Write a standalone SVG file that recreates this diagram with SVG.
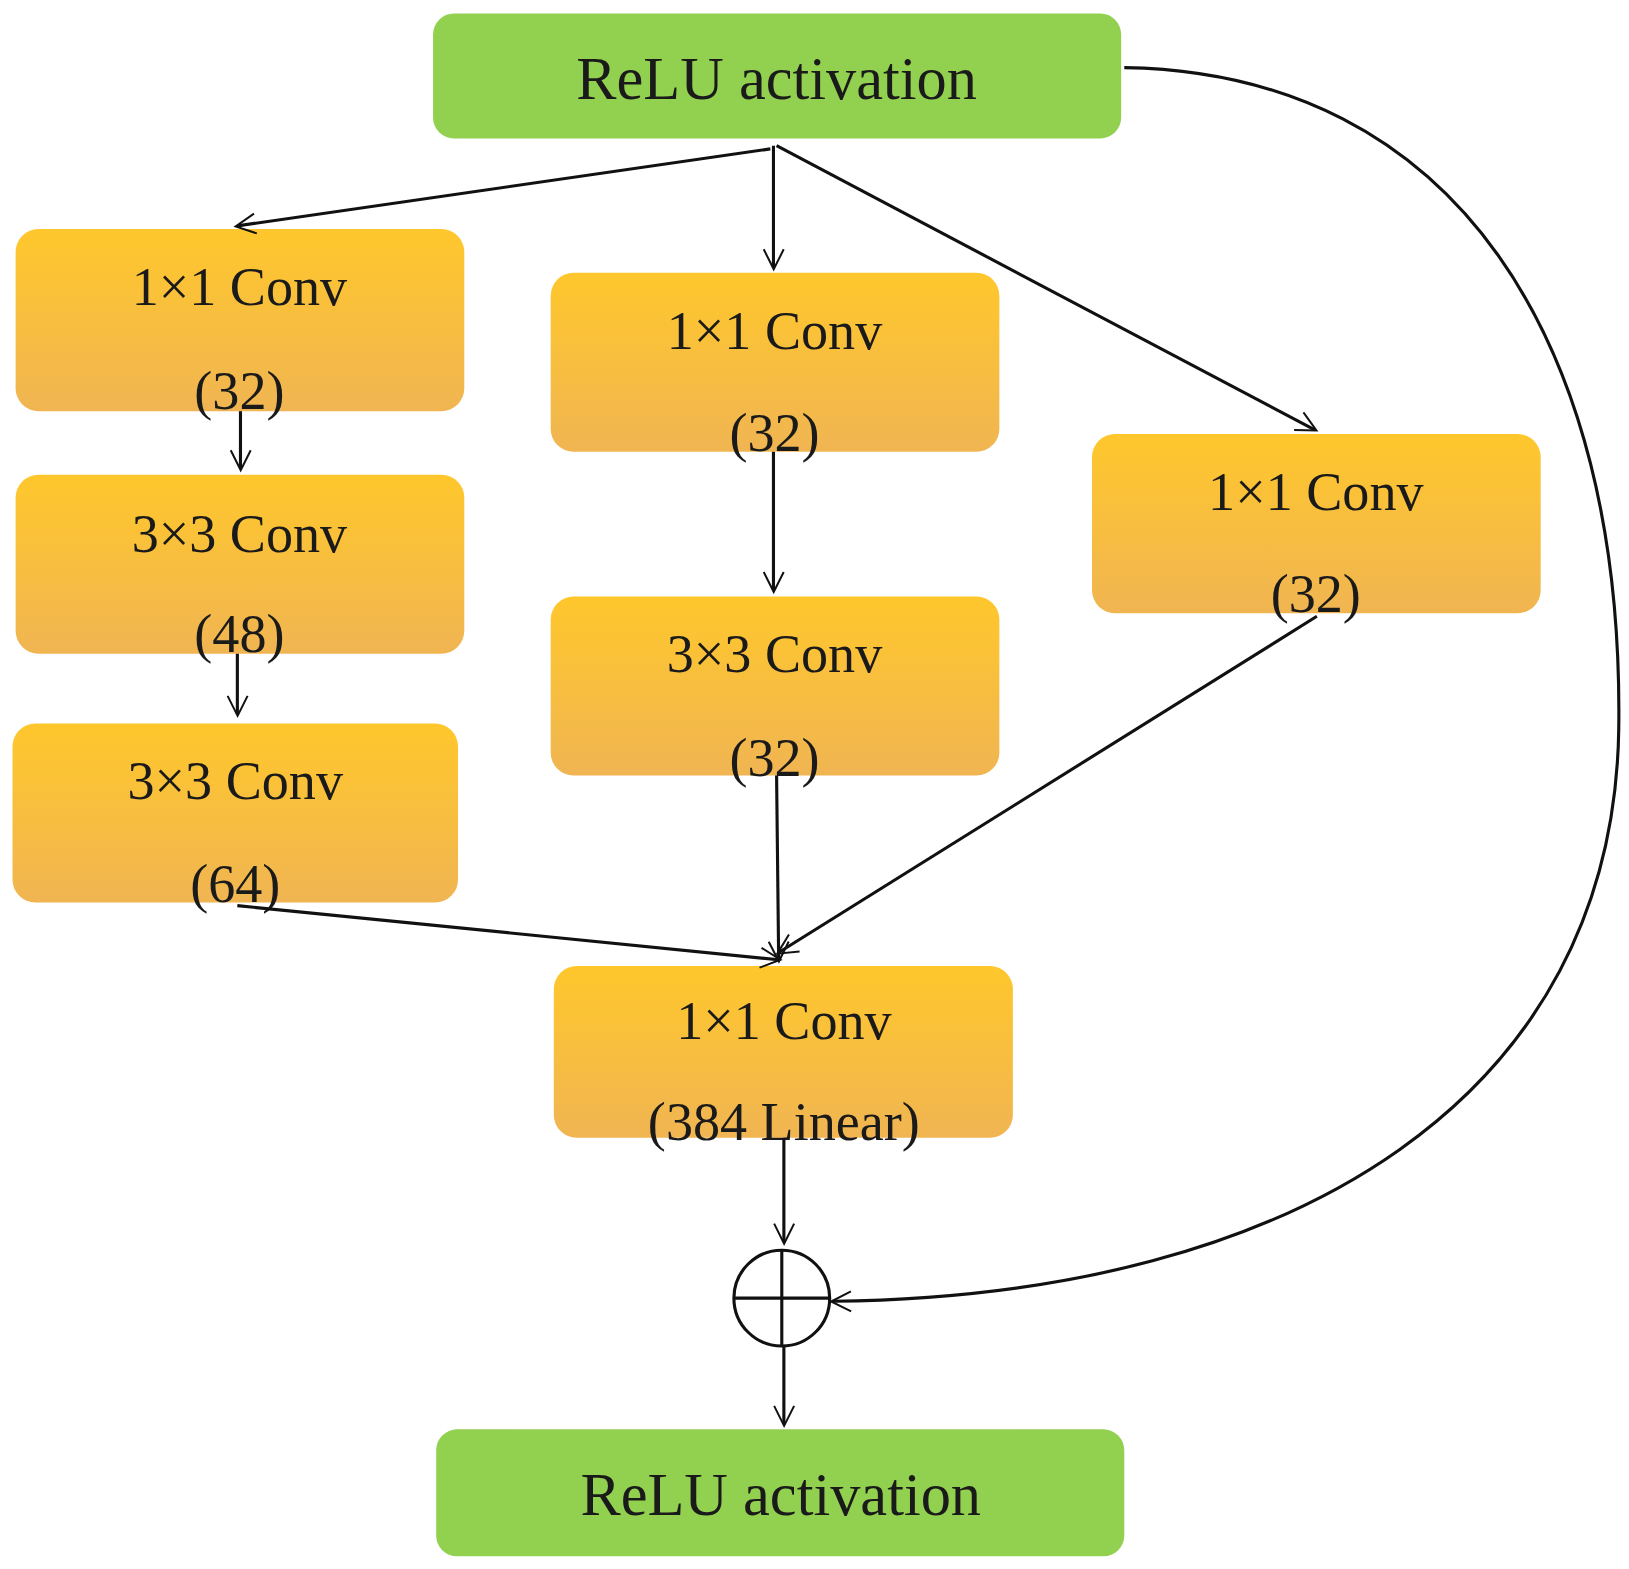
<svg xmlns="http://www.w3.org/2000/svg" width="1629" height="1569" viewBox="0 0 1629 1569">
<style>
.g{fill:#92D050}
.o{fill:url(#og)}
text{font-family:"Liberation Serif",serif;fill:#1a1a1a;text-anchor:middle}
.t1{font-size:58px}
.t2{font-size:52px}
.c{stroke:#111;stroke-width:3;fill:none}
</style>
<defs>
<linearGradient id="og" x1="0" y1="0" x2="0" y2="1"><stop offset="0" stop-color="#FFC72C"/><stop offset="1" stop-color="#F0B552"/></linearGradient>
<marker id="a" viewBox="0 0 20 20" refX="18" refY="10" markerWidth="12" markerHeight="12" markerUnits="userSpaceOnUse" orient="auto" overflow="visible"><polyline points="0,0 20,10 0,20" fill="none" stroke="#111" stroke-width="2" transform="scale(1.6) translate(-7,-4)"/></marker>
</defs>
<rect width="1629" height="1569" fill="#fff"/>
<g transform="scale(1.041)">
<g id="relu_top"><rect class="g" x="416" y="13" width="661" height="120" rx="20"/><text class="t1" x="746" y="95">ReLU activation</text></g>
<g id="l1"><rect class="o" x="15" y="220" width="431" height="175" rx="22"/><text class="t2" x="230" y="293">1×1 Conv</text><text class="t2" x="230" y="393">(32)</text></g>
<g id="l2"><rect class="o" x="15" y="456" width="431" height="172" rx="22"/><text class="t2" x="230" y="530">3×3 Conv</text><text class="t2" x="230" y="626">(48)</text></g>
<g id="l3"><rect class="o" x="12" y="695" width="428" height="172" rx="22"/><text class="t2" x="226" y="768">3×3 Conv</text><text class="t2" x="226" y="866">(64)</text></g>
<g id="m1"><rect class="o" x="529" y="262" width="431" height="172" rx="22"/><text class="t2" x="744" y="335">1×1 Conv</text><text class="t2" x="744" y="433">(32)</text></g>
<g id="m2"><rect class="o" x="529" y="573" width="431" height="172" rx="22"/><text class="t2" x="744" y="646">3×3 Conv</text><text class="t2" x="744" y="745">(32)</text></g>
<g id="r1"><rect class="o" x="1049" y="417" width="431" height="172" rx="22"/><text class="t2" x="1264" y="490">1×1 Conv</text><text class="t2" x="1264" y="588">(32)</text></g>
<g id="b1"><rect class="o" x="532" y="928" width="441" height="165" rx="22"/><text class="t2" x="753" y="998">1×1 Conv</text><text class="t2" x="753" y="1095">(384 Linear)</text></g>
<g id="sum"><circle class="c" cx="751" cy="1247" r="46"/><line class="c" x1="705" y1="1247" x2="797" y2="1247"/><line class="c" x1="751" y1="1201" x2="751" y2="1293"/></g>
<g id="relu_bot"><rect class="g" x="419" y="1373" width="661" height="122" rx="20"/><text class="t1" x="750" y="1455">ReLU activation</text></g>
<g id="connectors" class="c" marker-end="url(#a)">
<line x1="740" y1="143" x2="228" y2="217"/>
<line x1="743" y1="140" x2="743" y2="257"/>
<line x1="746" y1="140" x2="1263" y2="413"/>
<line x1="231" y1="395" x2="231" y2="450"/>
<line x1="228" y1="628" x2="228" y2="686"/>
<line x1="743" y1="434" x2="743" y2="567"/>
<line x1="746" y1="745" x2="748" y2="922"/>
<line x1="1265" y1="592" x2="748" y2="915"/>
<line x1="228" y1="870" x2="748" y2="922"/>
<line x1="753" y1="1093" x2="753" y2="1193"/>
<line x1="753" y1="1293" x2="753" y2="1368"/>
<path d="M1080,65 C1400,70 1560,330 1555,700 C1550,1050 1250,1245 800,1250"/>
</g>
</g>
</svg>
